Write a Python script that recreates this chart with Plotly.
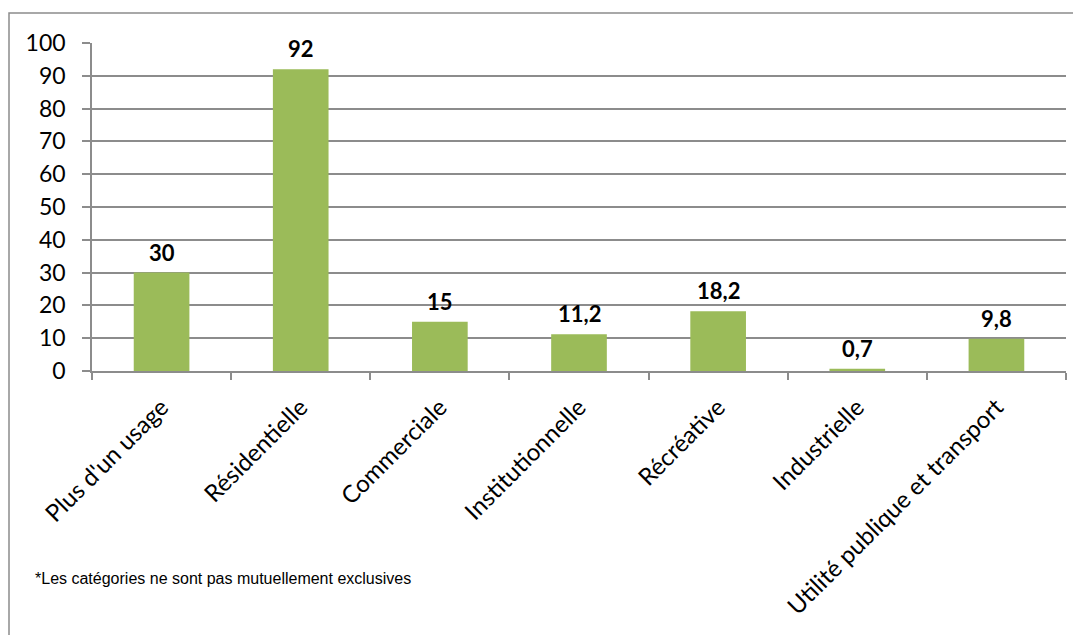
import plotly.graph_objects as go

categories = ["Plus d'un usage", "Résidentielle", "Commerciale", "Institutionnelle",
              "Récréative", "Industrielle", "Utilité publique et transport"]
values = [30, 92, 15, 11.2, 18.2, 0.7, 9.8]
y_ticks = [0, 10, 20, 30, 40, 50, 60, 70, 80, 90, 100]
footnote = "*Les catégories ne sont pas mutuellement exclusives"

labels = [("%g" % v).replace(".", ",") for v in values]

OFF = 8  # browser body margin
W, H = 1081, 635
L, R, T, B = 92 - OFF, 15 + OFF, 43 - OFF, 264 + OFF
pw, ph = W - L - R, H - T - B

fig = go.Figure()
fig.add_trace(go.Bar(
    x=categories, y=values,
    marker=dict(color="#9BBB59", line=dict(width=0)),
    hoverinfo="skip",
))

annotations = [dict(
    x=c, y=v, text="<b>%s</b>" % t, xref="x", yref="y", showarrow=False,
    xanchor="center", yanchor="bottom", yshift=5,
    font=dict(family="Lato, Calibri, sans-serif", size=22, color="black"),
) for c, v, t in zip(categories, values, labels)]
annotations.append(dict(
    text=footnote, xref="paper", yref="paper",
    x=(33 - OFF - L) / pw, y=-((578 - OFF) - T - ph) / ph, xanchor="left", yanchor="middle",
    showarrow=False, font=dict(family="Liberation Sans, Arial, sans-serif", size=16, color="black"),
))

grid = "#8c8c8c"
fig.update_layout(
    width=W, height=H,
    margin=dict(l=L, r=R, t=T, b=B, autoexpand=False),
    paper_bgcolor="white", plot_bgcolor="white",
    bargap=0.6, showlegend=False,
    font=dict(family="Lato, Calibri, sans-serif", size=22, color="black"),
    xaxis=dict(
        type="category", tickson="boundaries", ticks="outside", ticklen=7,
        tickcolor=grid, tickwidth=1.5, tickangle=-45,
        showline=True, linecolor=grid, linewidth=1.5, showgrid=False,
        tickfont=dict(size=24), range=[-0.5, 6.5], ticklabelstandoff=11,
    ),
    yaxis=dict(
        range=[0, 100], tickvals=y_ticks, ticks="outside", ticklen=8,
        tickcolor=grid, tickwidth=1.5, showline=True, linecolor=grid, linewidth=1.5,
        showgrid=True, gridcolor=grid, gridwidth=1.5, zeroline=False,
        tickfont=dict(size=23), ticklabelstandoff=12,
    ),
    shapes=[dict(
        type="rect", xref="paper", yref="paper",
        x0=(9 - OFF - L) / pw, x1=(W + 20 - L) / pw,
        y0=-(H + 20 - T - ph) / ph, y1=1 + (T - (13 - OFF)) / ph,
        line=dict(color="#8c8c8c", width=1.5), fillcolor="rgba(0,0,0,0)", layer="below",
    )],
    annotations=annotations,
)

fig.write_html("out.html")
